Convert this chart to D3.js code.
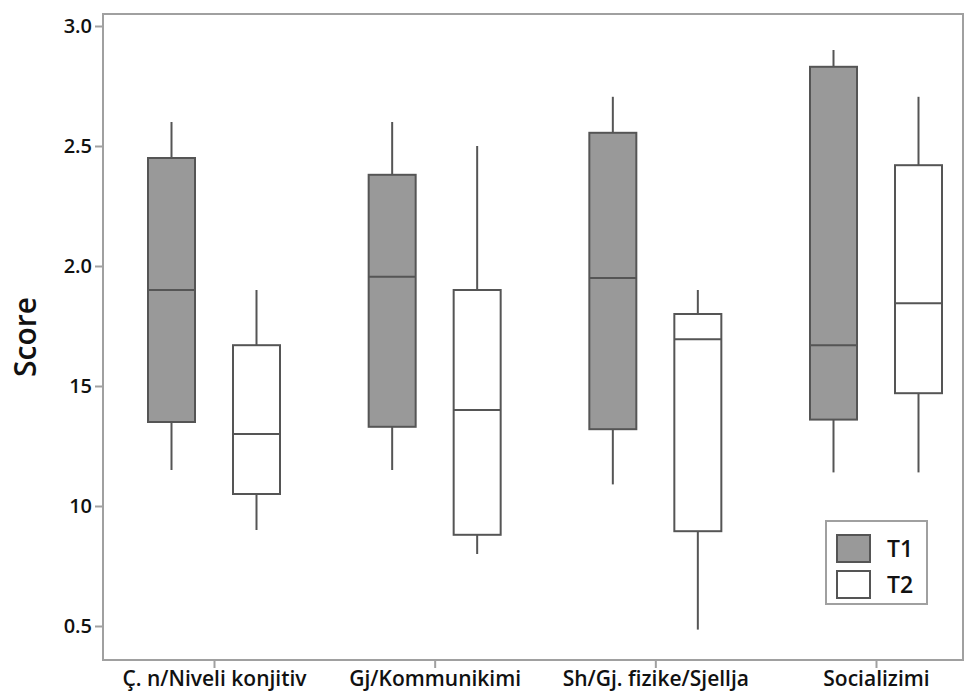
<!DOCTYPE html>
<html>
<head>
<meta charset="utf-8">
<script src="https://cdn.jsdelivr.net/npm/d3@7"></script>
<style>
  body { margin: 0; background: #fff; }
  text { font-family: "Open Sans", sans-serif; fill: #111; }
</style>
</head>
<body>
<div id="chart-area"></div>
<script>
// box plot, T1 vs T2 per domain
var categories = ['Ç. n/Niveli konjitiv', 'Gj/Kommunikimi', 'Sh/Gj. fizike/Sjellja', 'Socializimi'];
var seriesNames = ['T1', 'T2'];

var t1Min = [1.15, 1.15, 1.09, 1.14];
var t1Q1 = [1.35, 1.33, 1.32, 1.36];
var t1Median = [1.90, 1.955, 1.95, 1.67];
var t1Q3 = [2.45, 2.38, 2.555, 2.83];
var t1Max = [2.60, 2.60, 2.705, 2.90];

var t2Min = [0.90, 0.80, 0.485, 1.14];
var t2Q1 = [1.05, 0.88, 0.895, 1.47];
var t2Median = [1.30, 1.40, 1.695, 1.845];
var t2Q3 = [1.67, 1.90, 1.80, 2.42];
var t2Max = [1.90, 2.50, 1.90, 2.705];

var yTickValues = [3.0, 2.5, 2.0, 1.5, 1.0, 0.5];
var yTickLabels = ['3.0', '2.5', '2.0', '15', '10', '0.5'];

var width = 975, height = 694;
var frame = { left: 103, top: 14, right: 963, bottom: 660 };

var svg = d3.select('#chart-area')
    .append('svg')
    .attr('width', width)
    .attr('height', height);

var y = d3.scaleLinear()
    .domain([3 - (frame.bottom - 26) / 240, 3 + (26 - frame.top) / 240])
    .range([frame.bottom, frame.top]);

var x = d3.scalePoint()
    .domain(categories)
    .range([214, 876]);

var x1 = d3.scalePoint()
    .domain(seriesNames)
    .range([-42.5, 42.5]);

var fill = d3.scaleOrdinal()
    .domain(seriesNames)
    .range(['#999999', '#ffffff']);

var boxW = 47;
var stroke = '#555555';
var frameColor = '#a0a0a0';

// frame
svg.append('rect')
    .attr('x', frame.left)
    .attr('y', frame.top)
    .attr('width', frame.right - frame.left)
    .attr('height', frame.bottom - frame.top)
    .attr('fill', 'none')
    .attr('stroke', frameColor)
    .attr('stroke-width', 2);

// axes
var yAxis = d3.axisLeft(y)
    .tickValues(yTickValues)
    .tickFormat(function (d, i) { return yTickLabels[i]; })
    .tickSize(8)
    .tickPadding(3)
    .tickSizeOuter(0);
var gy = svg.append('g')
    .attr('transform', 'translate(' + frame.left + ',0)')
    .call(yAxis);
gy.select('.domain').remove();
gy.selectAll('line').attr('stroke', frameColor).attr('stroke-width', 2);
gy.selectAll('text')
    .style('font-size', '20px')
    .style('font-weight', 600)
    .attr('fill', '#111');

var xAxis = d3.axisBottom(x)
    .tickSize(8)
    .tickSizeOuter(0);
var gx = svg.append('g')
    .attr('transform', 'translate(0,' + frame.bottom + ')')
    .call(xAxis);
gx.select('.domain').remove();
gx.selectAll('line').attr('stroke', frameColor).attr('stroke-width', 2);
gx.selectAll('text')
    .attr('y', 26)
    .attr('dy', 0)
    .style('font-size', '21px')
    .style('font-weight', 600)
    .attr('fill', '#111');

svg.append('text')
    .attr('transform', 'translate(36,' + ((frame.top + frame.bottom) / 2) + ') rotate(-90)')
    .attr('text-anchor', 'middle')
    .style('font-size', '30px')
    .style('font-weight', 600)
    .text('Score');

// build box records
var boxes = [];
categories.forEach(function (c, i) {
    boxes.push({ cat: c, s: 'T1', min: t1Min[i], q1: t1Q1[i], med: t1Median[i], q3: t1Q3[i], max: t1Max[i] });
    boxes.push({ cat: c, s: 'T2', min: t2Min[i], q1: t2Q1[i], med: t2Median[i], q3: t2Q3[i], max: t2Max[i] });
});

var g = svg.selectAll('.box')
    .data(boxes)
    .enter()
    .append('g')
    .attr('class', 'box')
    .attr('transform', function (d) {
        return 'translate(' + (x(d.cat) + x1(d.s)) + ',0)';
    });

g.append('line')
    .attr('x1', 0).attr('x2', 0)
    .attr('y1', function (d) { return y(d.max); })
    .attr('y2', function (d) { return y(d.q3); })
    .attr('stroke', stroke).attr('stroke-width', 2);

g.append('line')
    .attr('x1', 0).attr('x2', 0)
    .attr('y1', function (d) { return y(d.q1); })
    .attr('y2', function (d) { return y(d.min); })
    .attr('stroke', stroke).attr('stroke-width', 2);

g.append('rect')
    .attr('x', -boxW / 2)
    .attr('width', boxW)
    .attr('y', function (d) { return y(d.q3); })
    .attr('height', function (d) { return y(d.q1) - y(d.q3); })
    .attr('fill', function (d) { return fill(d.s); })
    .attr('stroke', stroke)
    .attr('stroke-width', 2);

g.append('line')
    .attr('x1', -boxW / 2).attr('x2', boxW / 2)
    .attr('y1', function (d) { return y(d.med); })
    .attr('y2', function (d) { return y(d.med); })
    .attr('stroke', stroke).attr('stroke-width', 2);

// legend
var legend = svg.append('g').attr('transform', 'translate(826,521)');
legend.append('rect')
    .attr('width', 101).attr('height', 83)
    .attr('fill', '#fff')
    .attr('stroke', frameColor)
    .attr('stroke-width', 2);

var items = legend.selectAll('.item')
    .data(seriesNames)
    .enter()
    .append('g')
    .attr('class', 'item')
    .attr('transform', function (d, i) { return 'translate(11,' + (14 + i * 36) + ')'; });

items.append('rect')
    .attr('width', 33).attr('height', 27)
    .attr('fill', function (d) { return fill(d); })
    .attr('stroke', stroke)
    .attr('stroke-width', 2);

items.append('text')
    .attr('x', 50)
    .attr('y', 22)
    .style('font-size', '23px')
    .style('font-weight', 600)
    .text(function (d) { return d; });
</script>
</body>
</html>
